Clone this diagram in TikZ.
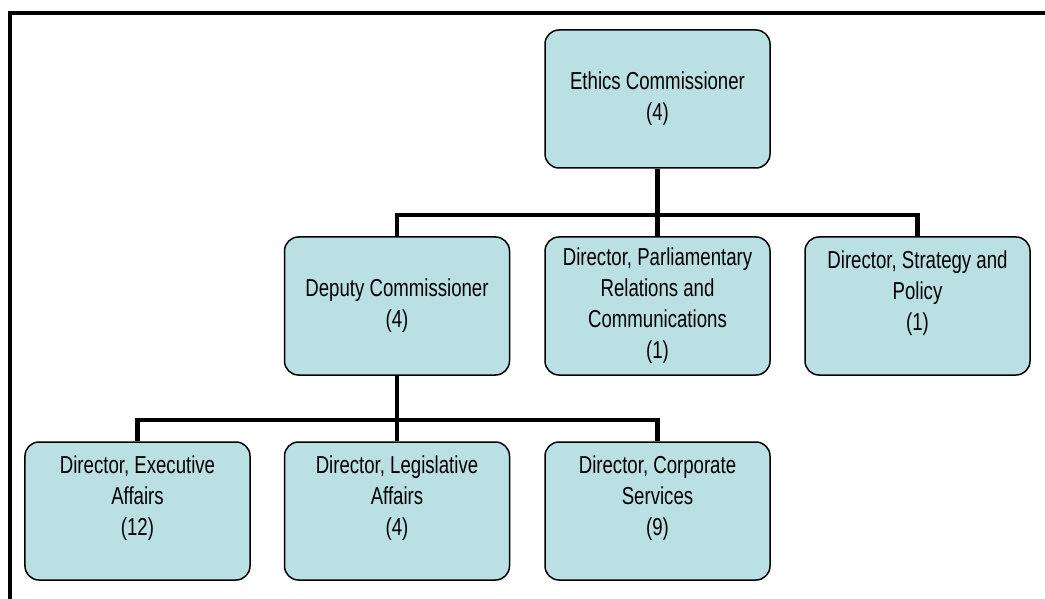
\documentclass[tikz,border=0pt]{standalone}
\usepackage{amsmath, amssymb}
\usepackage{xcolor}
\usepackage{fontspec}
\setmainfont{Liberation Sans}[FakeStretch=0.76]
\usepackage{tikz}
\definecolor{boxfill}{RGB}{186,224,228}

\begin{document}
\begin{tikzpicture}[x=1bp, y=-1bp,
    office/.style={draw, line width=1.5bp, rounded corners=14bp, fill=boxfill,
      minimum width=225bp, minimum height=138bp, inner sep=0pt, align=center,
      font=\fontsize{24.5bp}{31bp}\selectfont},
    link/.style={line width=4.5bp}]
  \useasboundingbox (0,0) rectangle (1045,599);
  \draw[line width=4.5bp] (10,599) -- (10,13) -- (1045,13);
      \node[office] (EC) at (657.5,99) {Ethics Commissioner\\(4)};
      \node[office] (DC) at (397,306) {Deputy Commissioner\\(4)};
      \node[office] (PR) at (657.5,306) {Director, Parliamentary\\Relations and\\Communications\\(1)};
      \node[office] (SP) at (917.5,306) {Director, Strategy and\\Policy\\(1)\\\mbox{}};
      \node[office] (EA) at (137.5,511) {Director, Executive\\Affairs\\(12)\\\mbox{}};
      \node[office] (LA) at (397,511) {Director, Legislative\\Affairs\\(4)\\\mbox{}};
      \node[office] (CS) at (657.5,511) {Director, Corporate\\Services\\(9)\\\mbox{}};
        % Connectors
      \coordinate (bar1) at (657.5,215);
      \coordinate (bar2) at (397,420);
      \draw[link] (EC) -- (bar1);
      \draw[link] (DC.north) |- (SP.north |- bar1) -- (SP.north);
      \draw[link] (PR.north) -- (bar1);
      \draw[link] (DC) -- (bar2);
      \draw[link] (EA.north) |- (CS.north |- bar2) -- (CS.north);
      \draw[link] (LA.north) -- (bar2);
    \end{tikzpicture}
\end{document}
